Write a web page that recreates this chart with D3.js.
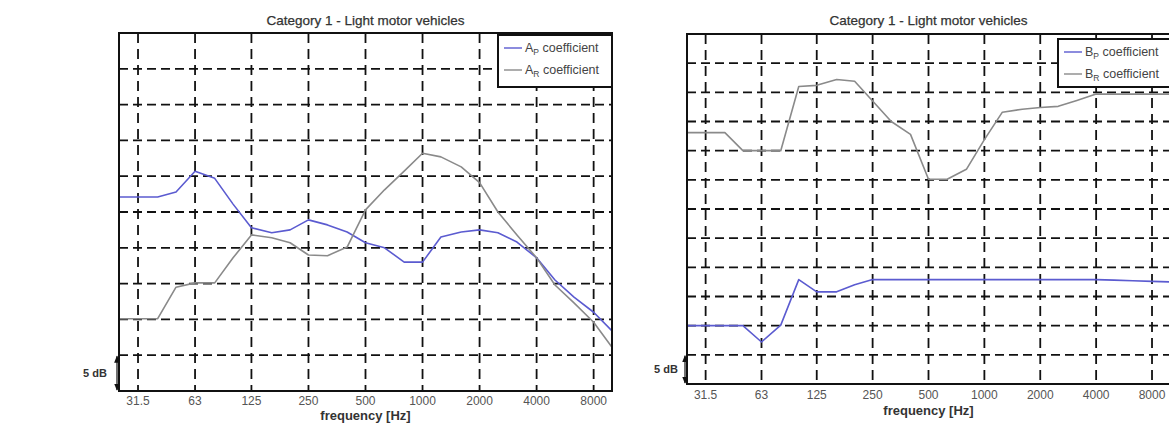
<!DOCTYPE html>
<html>
<head>
<meta charset="utf-8">
<script src="https://cdn.jsdelivr.net/npm/d3@7"></script>
<style>
  html, body { margin: 0; padding: 0; background: #fff; }
  svg { display: block; }
  text { font-family: "Liberation Sans", Arial, sans-serif; }
</style>
</head>
<body>
<svg id="chart" width="1169" height="425"></svg>
<script>
// ---- data ----
const bands = [25, 31.5, 40, 50, 63, 80, 100, 125, 160, 200, 250, 315, 400, 500, 630, 800, 1000, 1250, 1600, 2000, 2500, 3150, 4000, 5000, 6300, 8000, 10000];
const tickFreqs = [31.5, 63, 125, 250, 500, 1000, 2000, 4000, 8000];
const tickLabels = ["31.5", "63", "125", "250", "500", "1000", "2000", "4000", "8000"];

// Left chart: A coefficients (dB)
const coefAP = [27.1, 27.1, 27.1, 27.8, 30.7, 29.7, 26.1, 22.8, 22.1, 22.5, 23.9, 23.2, 22.2, 20.7, 20.0, 18.0, 18.0, 21.5, 22.2, 22.5, 22.1, 20.8, 18.6, 15.5, 13.1, 11.0, 8.4];
const coefAR = [10.1, 10.1, 10.1, 14.5, 15.1, 15.1, 18.6, 21.8, 21.4, 20.7, 19.0, 18.9, 20.1, 25.3, 28.1, 30.7, 33.2, 32.7, 31.3, 29.1, 25.0, 21.8, 18.6, 14.8, 12.3, 9.6, 6.1];

// Right chart: B coefficients (dB)
const coefBP = [10.0, 10.0, 10.0, 10.0, 7.2, 10.1, 17.9, 15.8, 15.8, 17.0, 17.9, 17.9, 17.9, 17.9, 17.9, 17.9, 17.9, 17.9, 17.9, 17.9, 17.9, 17.9, 17.9, 17.8, 17.7, 17.6, 17.5];
const coefBR = [43.1, 43.1, 43.1, 40.0, 40.0, 40.0, 51.0, 51.2, 52.2, 51.9, 48.5, 45.0, 42.8, 35.1, 35.1, 36.8, 41.9, 46.6, 47.1, 47.4, 47.6, 48.6, 49.7, 49.7, 49.7, 49.7, 49.7];

const chartTitle = "Category 1 - Light motor vehicles";
const xTitle = "frequency [Hz]";
const scaleLabel = "5 dB";

const charts = [
  { left: 119, right: 612, top: 33, bottom: 391, yMax: 50,
    series: [coefAP, coefAR], names: ["A", "A"], subs: ["P", "R"],
    legend: { x: 498, y: 35, w: 114, h: 52 },
    tickY: 405, xTitleY: 420, labelX: 95, titleY: 25 },
  { left: 687, right: 1170, top: 34, bottom: 384, yMax: 60,
    series: [coefBP, coefBR], names: ["B", "B"], subs: ["P", "R"],
    legend: { x: 1058, y: 39, w: 120, h: 48 },
    tickY: 399, xTitleY: 415, labelX: 666, titleY: 25 }
];
const colors = ["#5b5bd0", "#8a8a8a"];

const svg = d3.select("#chart");
const defs = svg.append("defs");
defs.append("marker").attr("id", "arr").attr("viewBox", "0 0 10 10")
  .attr("refX", 9).attr("refY", 5).attr("markerWidth", 6).attr("markerHeight", 6)
  .attr("orient", "auto-start-reverse")
  .append("path").attr("d", "M0,1 L10,5 L0,9 z").attr("fill", "#111");

charts.forEach(c => {
  const g = svg.append("g");
  const x = d3.scaleLog().base(2).domain([25, 10000]).range([c.left, c.right]);
  const y = d3.scaleLinear().domain([0, c.yMax]).range([c.bottom, c.top]);

  // title
  g.append("text").attr("x", (c.left + c.right) / 2).attr("y", c.titleY)
    .attr("text-anchor", "middle").attr("font-size", 13.5).attr("fill", "#333")
    .attr("stroke", "#333").attr("stroke-width", 0.25).text(chartTitle);

  // grid
  const yTicks = d3.range(5, c.yMax, 5);
  g.append("g").selectAll("line").data(yTicks).join("line")
    .attr("x1", c.left).attr("x2", c.right)
    .attr("y1", d => y(d)).attr("y2", d => y(d))
    .attr("stroke", "#111").attr("stroke-width", 1.8).attr("stroke-dasharray", "9,5");
  g.append("g").selectAll("line").data(tickFreqs).join("line")
    .attr("x1", d => x(d)).attr("x2", d => x(d))
    .attr("y1", c.top).attr("y2", c.bottom)
    .attr("stroke", "#111").attr("stroke-width", 1.8).attr("stroke-dasharray", "10,6");

  // series
  const line = d3.line().x((d, i) => x(bands[i])).y(d => y(d));
  c.series.forEach((s, k) => {
    g.append("path").datum(s).attr("d", line).attr("fill", "none")
      .attr("stroke", colors[k]).attr("stroke-width", 1.6).attr("stroke-linejoin", "round");
  });

  // frame
  g.append("rect").attr("x", c.left).attr("y", c.top)
    .attr("width", c.right - c.left).attr("height", c.bottom - c.top)
    .attr("fill", "none").attr("stroke", "#111").attr("stroke-width", 2);

  // x tick labels
  g.append("g").selectAll("text").data(tickFreqs).join("text")
    .attr("x", d => x(d)).attr("y", c.tickY).attr("text-anchor", "middle")
    .attr("font-size", 12).attr("fill", "#555")
    .text((d, i) => tickLabels[i]);
  g.append("text").attr("x", (c.left + c.right) / 2)
    .attr("y", c.xTitleY).attr("text-anchor", "middle").attr("font-size", 13)
    .attr("font-weight", "bold").attr("fill", "#333").text(xTitle);

  // 5 dB scale arrow
  g.append("line").attr("x1", c.left - 2).attr("x2", c.left - 2)
    .attr("y1", y(0) - 1).attr("y2", y(5) + 1)
    .attr("stroke", "#111").attr("stroke-width", 1.2)
    .attr("marker-start", "url(#arr)").attr("marker-end", "url(#arr)");
  g.append("text").attr("x", c.labelX).attr("y", y(2.5) + 4).attr("text-anchor", "middle")
    .attr("font-size", 11).attr("font-weight", "bold").attr("fill", "#333").text(scaleLabel);

  // legend
  const L = c.legend;
  const lg = g.append("g");
  lg.append("rect").attr("x", L.x).attr("y", L.y).attr("width", L.w).attr("height", L.h)
    .attr("fill", "#fff").attr("stroke", "#111").attr("stroke-width", 2);
  c.series.forEach((s, k) => {
    const ry = L.y + 13 + k * 22;
    lg.append("line").attr("x1", L.x + 6).attr("x2", L.x + 24).attr("y1", ry).attr("y2", ry)
      .attr("stroke", colors[k]).attr("stroke-width", 1.4);
    const t = lg.append("text").attr("x", L.x + 27).attr("y", ry + 4)
      .attr("font-size", 12.5).attr("fill", "#444");
    t.append("tspan").text(c.names[k]);
    t.append("tspan").attr("dy", 3).attr("font-size", 8.5).text(c.subs[k]);
    t.append("tspan").attr("dy", -3).text(" coefficient");
  });
});
</script>
</body>
</html>
